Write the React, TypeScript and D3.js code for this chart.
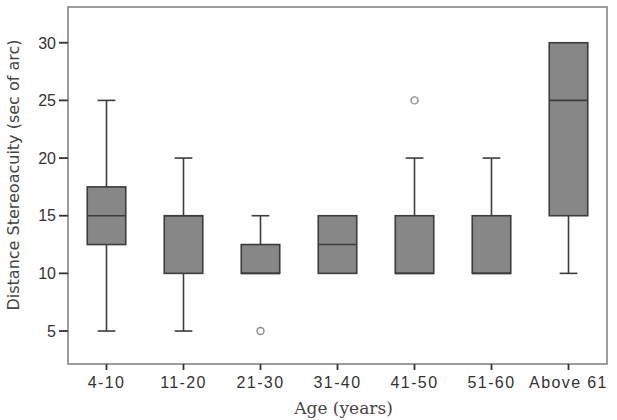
import * as d3 from 'd3';

// Age groups and their box-plot summaries (sec of arc)
const ageGroups = ['4-10', '11-20', '21-30', '31-40', '41-50', '51-60', 'Above 61'];
const whiskerLow = [5, 5, 10, 10, 10, 10, 10];
const q1 = [12.5, 10, 10, 10, 10, 10, 15];
const median = [15, 15, 10, 12.5, 10, 10, 25];
const q3 = [17.5, 15, 12.5, 15, 15, 15, 30];
const whiskerHigh = [25, 20, 15, 15, 20, 20, 30];

const outlierGroups = ['21-30', '41-50'];
const outlierValues = [5, 25];

const yTicks = [5, 10, 15, 20, 25, 30];

const width = 617;
const height = 420;
const plot = { left: 68, right: 607, top: 7, bottom: 364 };

const BOX_FILL = '#878787';
const BOX_STROKE = '#3c3c3c';
const FRAME = '#858585';

export default function App() {
  const x = d3.scaleBand<string>().domain(ageGroups).range([plot.left, plot.right]).padding(0);
  const y = d3.scaleLinear().domain([2.14, 33.1]).range([plot.bottom, plot.top]);

  const bw = x.bandwidth();
  const boxW = bw * 0.5;
  const capW = bw * 0.23;

  return (
    <svg
      width={width}
      height={height}
      style={{ position: 'absolute', left: 0, top: 0, background: '#fff' }}
    >
      {/* frame */}
      <rect
        x={plot.left}
        y={plot.top}
        width={plot.right - plot.left}
        height={plot.bottom - plot.top}
        fill="none"
        stroke={FRAME}
        strokeWidth={1.6}
      />

      {/* y axis ticks */}
      {yTicks.map((t) => (
        <g key={t}>
          <line x1={plot.left - 9} x2={plot.left} y1={y(t)} y2={y(t)} stroke="#333" strokeWidth={1.8} />
          <text
            x={plot.left - 12}
            y={y(t)}
            dy="0.36em"
            textAnchor="end"
            fontFamily="Liberation Sans, Arial, sans-serif"
            fontSize={16}
            fill="#333"
          >
            {t}
          </text>
        </g>
      ))}

      {/* x axis ticks */}
      {ageGroups.map((g) => {
        const cx = (x(g) ?? 0) + bw / 2;
        return (
          <g key={g}>
            <line x1={cx} x2={cx} y1={plot.bottom} y2={plot.bottom + 6} stroke="#333" strokeWidth={1.8} />
            <text
              x={cx}
              y={plot.bottom + 24}
              textAnchor="middle"
              fontFamily="Liberation Sans, Arial, sans-serif"
              fontSize={16}
              letterSpacing={1.4}
              fill="#333"
            >
              {g}
            </text>
          </g>
        );
      })}

      {/* boxes */}
      {ageGroups.map((g, i) => {
        const cx = (x(g) ?? 0) + bw / 2;
        return (
          <g key={g} stroke={BOX_STROKE} strokeWidth={1.6}>
            {whiskerHigh[i] > q3[i] && (
              <>
                <line x1={cx} x2={cx} y1={y(q3[i])} y2={y(whiskerHigh[i])} />
                <line x1={cx - capW / 2} x2={cx + capW / 2} y1={y(whiskerHigh[i])} y2={y(whiskerHigh[i])} />
              </>
            )}
            {whiskerLow[i] < q1[i] && (
              <>
                <line x1={cx} x2={cx} y1={y(q1[i])} y2={y(whiskerLow[i])} />
                <line x1={cx - capW / 2} x2={cx + capW / 2} y1={y(whiskerLow[i])} y2={y(whiskerLow[i])} />
              </>
            )}
            <rect
              x={cx - boxW / 2}
              y={y(q3[i])}
              width={boxW}
              height={y(q1[i]) - y(q3[i])}
              fill={BOX_FILL}
            />
            <line x1={cx - boxW / 2} x2={cx + boxW / 2} y1={y(median[i])} y2={y(median[i])} />
          </g>
        );
      })}

      {/* outliers */}
      {outlierGroups.map((g, i) => (
        <circle
          key={g}
          cx={(x(g) ?? 0) + bw / 2}
          cy={y(outlierValues[i])}
          r={3.5}
          fill="#fff"
          stroke="#8a8a8a"
          strokeWidth={1.4}
        />
      ))}

      {/* axis titles */}
      <text
        x={(plot.left + plot.right) / 2 + 6}
        y={414}
        textAnchor="middle"
        fontFamily="DejaVu Serif, serif"
        fontSize={17}
        fill="#444"
      >
        Age (years)
      </text>
      <text
        transform={`translate(19, 175) rotate(-90)`}
        textAnchor="middle"
        fontFamily="DejaVu Sans, sans-serif"
        fontSize={16}
        fill="#444"
      >
        Distance Stereoacuity (sec of arc)
      </text>
    </svg>
  );
}
